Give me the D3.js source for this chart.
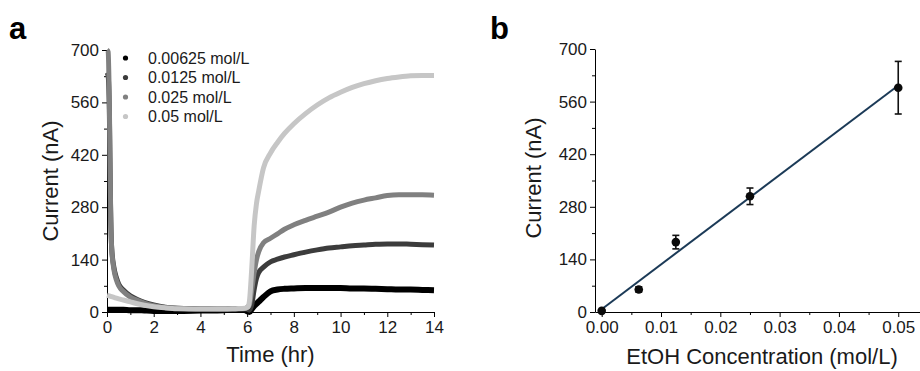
<!DOCTYPE html>
<html>
<head>
<meta charset="utf-8">
<script src="https://cdn.jsdelivr.net/npm/d3@7/dist/d3.min.js"></script>
<style>
  html, body { margin: 0; padding: 0; background: #fff; }
  svg { display: block; font-family: "Liberation Sans", Arial, sans-serif; }
</style>
</head>
<body>
<svg id="chart" width="920" height="371"></svg>
<script>
// ---------- Panel a data ----------
const timeHr = [0, 0.05, 0.1, 0.15, 0.2, 0.3, 0.4, 0.5, 0.7, 1, 1.3, 1.6, 2, 2.5, 3, 4, 5, 5.5, 5.9, 6,
  6.05, 6.1, 6.2, 6.3, 6.4, 6.5, 6.7, 7, 7.3, 7.6, 8, 8.5, 9, 9.5, 10, 10.5, 11, 11.5, 12, 12.5, 13, 13.5, 14];
const current00625 = [6, 6, 6, 6, 6, 6, 6, 6, 6, 5, 5, 4, 3, 3, 3, 4, 5, 7, 5, 2,
  1, 0, 8, 16, 22, 28, 40, 55, 60, 62, 63, 64, 64, 64, 64, 63, 63, 62, 61, 60, 60, 59, 58];
const current0125 = [640, 630, 540, 290, 172, 118, 92, 75, 59, 43, 33, 26, 19, 13, 10, 9, 8, 8, 8, 8,
  6, 5, 20, 60, 90, 106, 120, 134, 141, 147, 153, 160, 166, 171, 174, 177, 179, 181, 182, 182, 181, 180, 179];
const current025 = [700, 695, 560, 300, 170, 112, 86, 70, 55, 40, 31, 24, 17, 12, 10, 8, 8, 8, 9, 12,
  15, 20, 60, 105, 140, 162, 185, 197, 209, 221, 233, 245, 256, 267, 280, 291, 299, 305, 311, 313, 313, 313, 312];
const current05 = [45, 44, 43, 42, 41, 39, 37, 35, 32, 27, 22, 18, 14, 11, 9, 8, 8, 9, 10, 12,
  15, 30, 120, 230, 290, 325, 385, 425, 453, 477, 503, 530, 553, 572, 587, 600, 610, 618, 624, 628, 631, 632, 632];
const seriesLabels = ["0.00625 mol/L", "0.0125 mol/L", "0.025 mol/L", "0.05 mol/L"];
const seriesColors = ["#000000", "#3c3c3c", "#808080", "#c6c6c6"];
const timeTicks = [0, 2, 4, 6, 8, 10, 12, 14];
const timeMinorTicks = [1, 3, 5, 7, 9, 11, 13];
const currentTicks = [0, 140, 280, 420, 560, 700];
const currentMinorTicks = [70, 210, 350, 490, 630];

// ---------- Panel b data ----------
const concentration = [0, 0.00625, 0.0125, 0.025, 0.05];
const meanCurrent = [3, 60, 186, 308, 597];
const errCurrent = [3, 7, 18, 22, 70];
const concTicks = [0, 0.01, 0.02, 0.03, 0.04, 0.05];
const concMinorTicks = [0.005, 0.015, 0.025, 0.035, 0.045];

const svg = d3.select("#chart");
const textColor = "#1a1a1a";

function styleAxis(g) {
  g.select(".domain").attr("stroke", "#000").attr("stroke-width", 1);
  g.selectAll(".tick line").attr("stroke", "#000").attr("stroke-width", 1);
  g.selectAll(".tick text").attr("fill", textColor).attr("font-size", 17)
    .attr("font-family", "'Liberation Sans', Arial, sans-serif");
}

// ================= Panel a =================
const ax = d3.scaleLinear().domain([0, 14]).range([107, 434]);
const ay = d3.scaleLinear().domain([0, 700]).range([312, 50]);

const gA = svg.append("g");
gA.append("g").attr("transform", "translate(0,312)")
  .call(d3.axisBottom(ax).tickValues(timeMinorTicks).tickSize(3).tickFormat(""))
  .call(g => { g.select(".domain").remove(); g.selectAll("line").attr("stroke", "#000"); });
gA.append("g").attr("transform", "translate(107,0)")
  .call(d3.axisLeft(ay).tickValues(currentMinorTicks).tickSize(3).tickFormat(""))
  .call(g => { g.select(".domain").remove(); g.selectAll("line").attr("stroke", "#000"); });
gA.append("g").attr("transform", "translate(0,312)")
  .call(d3.axisBottom(ax).tickValues(timeTicks).tickSize(5).tickPadding(4).tickSizeOuter(0).tickFormat(d3.format("d")))
  .call(styleAxis);
gA.append("g").attr("transform", "translate(107,0)")
  .call(d3.axisLeft(ay).tickValues(currentTicks).tickSize(5).tickPadding(3).tickSizeOuter(0).tickFormat(d3.format("d")))
  .call(styleAxis);

const seriesA = [current00625, current0125, current025, current05];
const seriesWidths = [6, 5, 5, 5];
const line = d3.line().x((d, i) => ax(timeHr[i])).y(d => ay(d)).curve(d3.curveMonotoneX);
seriesA.forEach((vals, k) => {
  gA.append("path").datum(vals)
    .attr("d", line)
    .attr("fill", "none")
    .attr("stroke", seriesColors[k])
    .attr("stroke-width", seriesWidths[k])
    .attr("stroke-linejoin", "round");
});

// legend
const legend = gA.append("g");
seriesLabels.forEach((lab, k) => {
  const yy = 58 + k * 19.5;
  legend.append("circle").attr("cx", 125.5).attr("cy", yy).attr("r", 2.6).attr("fill", seriesColors[k]);
  legend.append("text").attr("x", 148).attr("y", yy).attr("dy", "0.35em")
    .attr("font-size", 16).attr("fill", textColor).text(lab);
});

gA.append("text").attr("x", 270.5).attr("y", 362).attr("text-anchor", "middle")
  .attr("font-size", 22).attr("fill", textColor).text("Time (hr)");
gA.append("text").attr("transform", "translate(58,181) rotate(-90)").attr("text-anchor", "middle")
  .attr("font-size", 22).attr("fill", textColor).text("Current (nA)");
svg.append("text").attr("x", 9).attr("y", 39).attr("font-size", 31).attr("font-weight", "bold")
  .attr("fill", "#000").text("a");

// ================= Panel b =================
const bx = d3.scaleLinear().domain([-0.00113, 0.05367]).range([595, 920]);
const by = d3.scaleLinear().domain([0, 700]).range([312, 49]);
const gB = svg.append("g");

gB.append("g").attr("transform", "translate(0,312)")
  .call(d3.axisBottom(bx).tickValues(concMinorTicks).tickSize(3).tickFormat(""))
  .call(g => { g.select(".domain").remove(); g.selectAll("line").attr("stroke", "#000"); });
gB.append("g").attr("transform", "translate(595,0)")
  .call(d3.axisLeft(by).tickValues(currentMinorTicks).tickSize(3).tickFormat(""))
  .call(g => { g.select(".domain").remove(); g.selectAll("line").attr("stroke", "#000"); });
gB.append("g").attr("transform", "translate(0,312)")
  .call(d3.axisBottom(bx).tickValues(concTicks).tickSize(5).tickPadding(4).tickSizeOuter(0).tickFormat(d3.format(".2f")))
  .call(styleAxis);
gB.append("g").attr("transform", "translate(595,0)")
  .call(d3.axisLeft(by).tickValues(currentTicks).tickSize(5).tickPadding(3).tickSizeOuter(0).tickFormat(d3.format("d")))
  .call(styleAxis);

// linear fit (least squares)
const n = concentration.length;
const mx = d3.mean(concentration), my = d3.mean(meanCurrent);
let sxy = 0, sxx = 0;
for (let i = 0; i < n; i++) {
  sxy += (concentration[i] - mx) * (meanCurrent[i] - my);
  sxx += (concentration[i] - mx) ** 2;
}
const slope = sxy / sxx, intercept = my - slope * mx;
const xMin = d3.min(concentration), xMax = d3.max(concentration);
gB.append("line")
  .attr("x1", bx(xMin)).attr("y1", by(intercept + slope * xMin))
  .attr("x2", bx(xMax)).attr("y2", by(intercept + slope * xMax))
  .attr("stroke", "#1b3a57").attr("stroke-width", 2);

concentration.forEach((c, i) => {
  const cx = bx(c);
  const yTop = by(meanCurrent[i] + errCurrent[i]);
  const yBot = by(meanCurrent[i] - errCurrent[i]);
  const eb = gB.append("g").attr("stroke", "#111").attr("stroke-width", 1.6);
  eb.append("line").attr("x1", cx).attr("x2", cx).attr("y1", yTop).attr("y2", yBot);
  eb.append("line").attr("x1", cx - 3.5).attr("x2", cx + 3.5).attr("y1", yTop).attr("y2", yTop);
  eb.append("line").attr("x1", cx - 3.5).attr("x2", cx + 3.5).attr("y1", yBot).attr("y2", yBot);
  gB.append("circle").attr("cx", cx).attr("cy", by(meanCurrent[i])).attr("r", 4.3).attr("fill", "#0a0a0a");
});

gB.append("text").attr("x", 762).attr("y", 364).attr("text-anchor", "middle")
  .attr("font-size", 22).attr("fill", textColor).text("EtOH Concentration (mol/L)");
gB.append("text").attr("transform", "translate(541,178) rotate(-90)").attr("text-anchor", "middle")
  .attr("font-size", 22).attr("fill", textColor).text("Current (nA)");
svg.append("text").attr("x", 490).attr("y", 39).attr("font-size", 31).attr("font-weight", "bold")
  .attr("fill", "#000").text("b");
</script>
</body>
</html>
